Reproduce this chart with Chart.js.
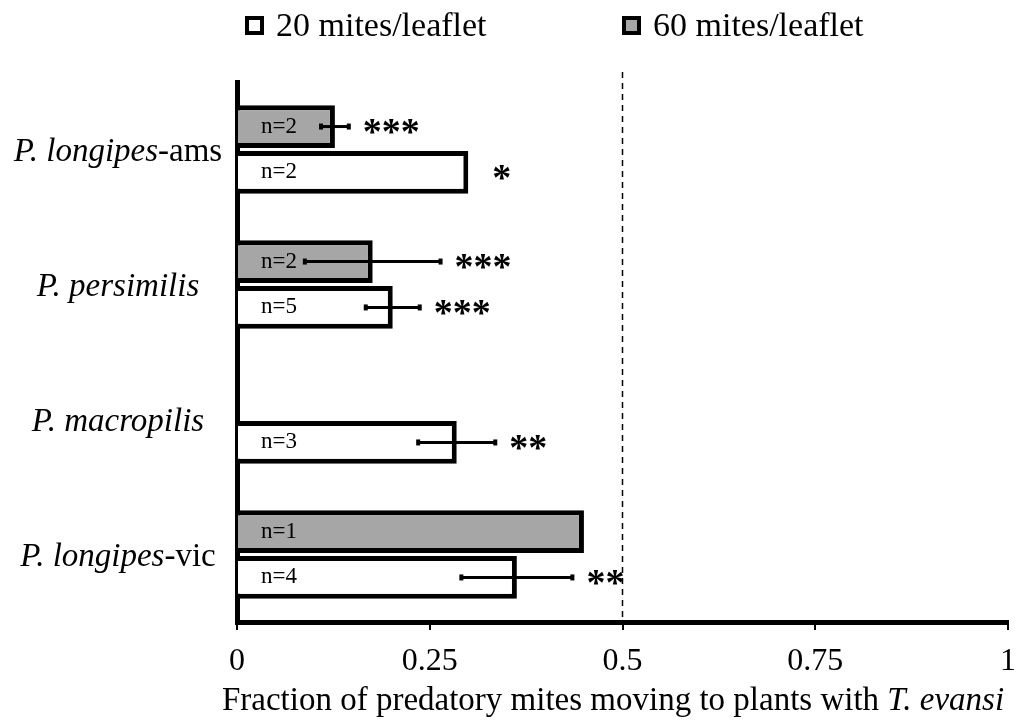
<!DOCTYPE html>
<html>
<head>
<meta charset="utf-8">
<script src="https://cdn.jsdelivr.net/npm/chart.js@4/dist/chart.umd.min.js"></script>
<style>
  html, body { margin: 0; padding: 0; background: #fff; }
  #wrap { width: 1031px; height: 724px; }
</style>
</head>
<body>
<div id="wrap"><canvas id="chart" width="1031" height="724"></canvas></div>
<script>
'use strict';

// categories: italic part + plain suffix
const categories = ['P. longipes-ams', 'P. persimilis', 'P. macropilis', 'P. longipes-vic'];
const catItalic = ['P. longipes', 'P. persimilis', 'P. macropilis', 'P. longipes'];
const catPlain = ['-ams', '', '', '-vic'];

const seriesNames = ['20 mites/leaflet', '60 mites/leaflet'];

// fraction moving to T. evansi plants
const low = [0.300, 0.202, 0.285, 0.363];
const high = [0.127, 0.176, null, 0.450];

// standard errors (null = none drawn)
const lowErr = [null, 0.035, 0.050, 0.072];
const highErr = [0.018, 0.088, null, null];

// sample sizes
const lowN = ['n=2', 'n=5', 'n=3', 'n=4'];
const highN = ['n=2', 'n=2', null, 'n=1'];

// significance marks
const lowSig = ['*', '***', '**', '**'];
const highSig = ['***', '***', null, null];

const xTicks = [0, 0.25, 0.5, 0.75, 1];
const xTitle = 'Fraction of predatory mites moving to plants with ';
const xTitleItalic = 'T. evansi';

const SERIF = '"Liberation Serif", "DejaVu Serif", serif';
const GRAY = '#a6a6a6';

//everything the library can't do by itself: mixed-style labels, error bars, stars, legend
const extras = {
  id: 'extras',
  afterDatasetsDraw(chart){
    const ctx = chart.ctx;
    const xs = chart.scales.x;
    const ys = chart.scales.y;
    const area = chart.chartArea;
    ctx.save();

    //dashed reference line at 0.5
    let x5 = xs.getPixelForValue(0.5);
    ctx.strokeStyle = '#000';
    ctx.lineWidth = 1.5;
    ctx.setLineDash([6, 5]);
    ctx.beginPath();
    ctx.moveTo(x5, 72);
    ctx.lineTo(x5, area.bottom);
    ctx.stroke();
    ctx.setLineDash([]);

    //bars: dataset 0 is 60 (top), dataset 1 is 20 (bottom)
    const sets = [
      {vals: high, err: highErr, n: highN, sig: highSig},
      {vals: low, err: lowErr, n: lowN, sig: lowSig}
    ];
    sets.forEach(function(s, di){
      let meta = chart.getDatasetMeta(di);
      meta.data.forEach(function(bar, i){
        let v = s.vals[i];
        if (v === null || v === undefined) return;
        let y = bar.y;
        let end = bar.x;
        //error bar
        if (s.err[i] !== null){
          let l = xs.getPixelForValue(v - s.err[i]);
          let r = xs.getPixelForValue(v + s.err[i]);
          ctx.strokeStyle = '#000';
          ctx.lineWidth = 3;
          ctx.beginPath();
          ctx.moveTo(l, y);
          ctx.lineTo(r, y);
          ctx.stroke();
          ctx.fillStyle = '#000';
          ctx.fillRect(l - 2, y - 3, 4, 6);
          ctx.fillRect(r - 2, y - 3, 4, 6);
          end = Math.max(end, r);
        }
        //sample size
        if (s.n[i]){
          ctx.fillStyle = '#000';
          ctx.font = '23px ' + SERIF;
          ctx.textAlign = 'left';
          ctx.textBaseline = 'middle';
          ctx.fillText(s.n[i], xs.getPixelForValue(0) + 24, y);
        }
        //stars
        if (s.sig[i]){
          ctx.fillStyle = '#000';
          ctx.font = 'bold 38px ' + SERIF;
          ctx.textAlign = 'left';
          ctx.textBaseline = 'middle';
          let gap = s.err[i] === null ? 24 : 14;
          ctx.fillText(s.sig[i], end + gap, y + 8);
        }
      });
    });

    //category labels, italic species + plain suffix, centred
    ctx.textBaseline = 'middle';
    ctx.textAlign = 'left';
    categories.forEach(function(c, i){
      let y = ys.getPixelForTick(i);
      ctx.font = 'italic 33px ' + SERIF;
      let w1 = ctx.measureText(catItalic[i]).width;
      ctx.font = '33px ' + SERIF;
      let w2 = ctx.measureText(catPlain[i]).width;
      let x0 = 118 - (w1 + w2) / 2;
      ctx.font = 'italic 33px ' + SERIF;
      ctx.fillText(catItalic[i], x0, y + 3);
      ctx.font = '33px ' + SERIF;
      ctx.fillText(catPlain[i], x0 + w1, y + 3);
    });

    //x axis title
    ctx.font = '33px ' + SERIF;
    let t1 = ctx.measureText(xTitle).width;
    ctx.font = 'italic 33px ' + SERIF;
    let t2 = ctx.measureText(xTitleItalic).width;
    let tx = 613 - (t1 + t2) / 2;
    ctx.font = '33px ' + SERIF;
    ctx.fillText(xTitle, tx, 701);
    ctx.font = 'italic 33px ' + SERIF;
    ctx.fillText(xTitleItalic, tx + t1, 701);

    //legend, 20 first then 60
    const legendX = [245, 622];
    const legendFill = ['#fff', GRAY];
    seriesNames.forEach(function(name, i){
      let lx = legendX[i];
      ctx.fillStyle = '#000';
      ctx.fillRect(lx, 16, 19, 19);
      ctx.fillStyle = legendFill[i];
      ctx.fillRect(lx + 4, 20, 11, 11);
      ctx.fillStyle = '#000';
      ctx.font = '34px ' + SERIF;
      ctx.fillText(name, lx + 31, 27);
    });

    ctx.restore();
  }
};

const config = {
  type: 'bar',
  data: {
    labels: categories,
    datasets: [
      {
        label: seriesNames[1],
        data: high,
        backgroundColor: GRAY,
        borderColor: '#000',
        borderWidth: 5,
        borderSkipped: 'left'
      },
      {
        label: seriesNames[0],
        data: low,
        backgroundColor: '#fff',
        borderColor: '#000',
        borderWidth: 5,
        borderSkipped: 'left'
      }
    ]
  },
  options: {
    indexAxis: 'y',
    responsive: false,
    animation: false,
    categoryPercentage: 0.68,
    barPercentage: 0.93,
    layout: {padding: {top: 82, right: 23, bottom: 38, left: 0}},
    plugins: {
      legend: {display: false},
      tooltip: {enabled: false}
    },
    scales: {
      x: {
        min: 0,
        max: 1,
        afterBuildTicks: function(scale){
          scale.ticks = xTicks.map(function(v){ return {value: v}; });
        },
        grid: {drawOnChartArea: false, drawTicks: true, tickLength: 8, color: '#000', lineWidth: 2},
        border: {display: true, color: '#000', width: 5},
        ticks: {
          color: '#000',
          font: {family: SERIF, size: 32},
          padding: 12,
          maxRotation: 0,
          callback: function(v){ return String(v); }
        },
        afterFit: function(scale){ scale.height = 64; }
      },
      y: {
        grid: {display: false},
        border: {display: true, color: '#000', width: 5},
        ticks: {display: false},
        afterFit: function(scale){ scale.width = 237; }
      }
    }
  },
  plugins: [extras]
};

new Chart(document.getElementById('chart'), config);
</script>
</body>
</html>
